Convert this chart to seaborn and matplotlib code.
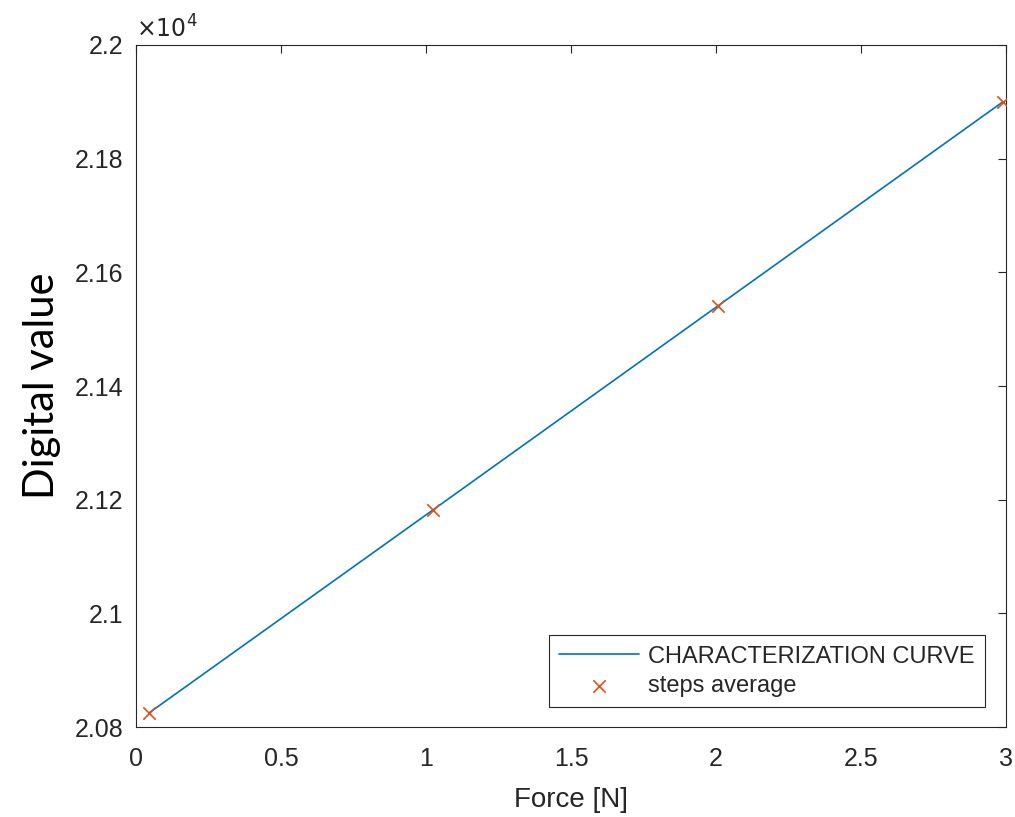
import matplotlib
matplotlib.use("Agg")
import matplotlib.pyplot as plt
import seaborn as sns
import pandas as pd

# Values
force = [0.045, 1.024, 2.007, 2.99]
digital = [20825, 21182, 21541, 21900]

x_ticks = [0, 0.5, 1, 1.5, 2, 2.5, 3]
x_tick_labels = ["0", "0.5", "1", "1.5", "2", "2.5", "3"]
y_ticks = [20800, 21000, 21200, 21400, 21600, 21800, 22000]
y_tick_labels = ["2.08", "2.1", "2.12", "2.14", "2.16", "2.18", "2.2"]

df = pd.DataFrame({"Force": force, "Digital": digital})

sns.set_style("white")
plt.rcParams["font.family"] = ["Liberation Sans", "DejaVu Sans"]

blue = "#0072BD"
orange = "#D95319"
grey = "#262626"

fig = plt.figure(figsize=(10.15, 8.17), dpi=100)
ax = fig.add_axes([0.134, 0.110, 0.857, 0.835])

sns.lineplot(data=df, x="Force", y="Digital", ax=ax, color=blue, linewidth=1.2,
             label="CHARACTERIZATION CURVE")
sns.scatterplot(data=df, x="Force", y="Digital", ax=ax, marker="x", color=orange,
                s=80, linewidth=1.2, label="steps average", zorder=3)

ax.set_xlim(0, 3)
ax.set_ylim(20800, 22000)
ax.set_xticks(x_ticks)
ax.set_xticklabels(x_tick_labels)
ax.set_yticks(y_ticks)
ax.set_yticklabels(y_tick_labels)

ax.tick_params(direction="in", length=6, width=0.8, top=True, right=True,
               labelsize=18, colors=grey)
ax.tick_params(axis="x", pad=14)
ax.tick_params(axis="y", pad=9)
for side in ax.spines.values():
    side.set_color(grey)
    side.set_linewidth(0.8)

ax.set_xlabel("Force [N]", fontsize=20, color=grey, labelpad=12)
ax.set_ylabel("Digital value", fontsize=30, color="black",
              family=["Lato", "DejaVu Sans"], labelpad=10)

ax.text(0.0, 1.003, r"$\times10^4$", transform=ax.transAxes, fontsize=17,
        color=grey, ha="left", va="bottom", family=["DejaVu Sans"])

leg = ax.legend(loc="lower right", bbox_to_anchor=(0.976, 0.029), borderaxespad=0,
                fontsize=17, handlelength=3.4, handletextpad=0.35, frameon=True,
                fancybox=False, framealpha=1, edgecolor=grey, borderpad=0.45,
                labelspacing=0.3)
leg.get_frame().set_linewidth(0.8)

fig.savefig("out.png", dpi=100)
